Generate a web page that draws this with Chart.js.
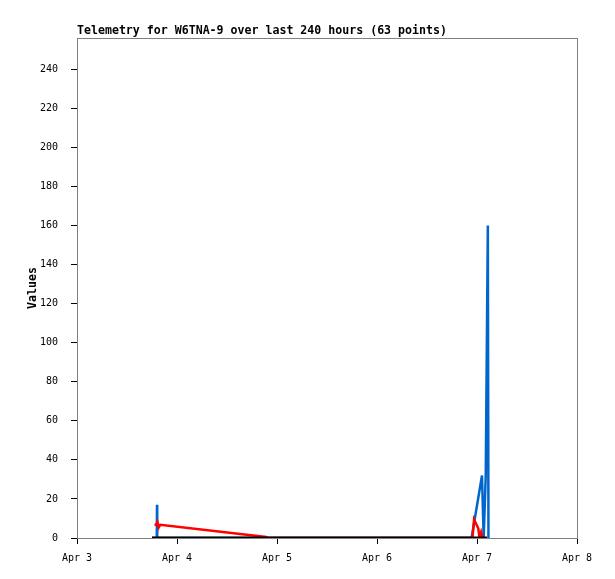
<!DOCTYPE html>
<html>
<head>
<meta charset="utf-8">
<script src="https://cdn.jsdelivr.net/npm/chart.js@4"></script>
<style>
  html, body { margin: 0; padding: 0; background: #fff; }
  #wrap { width: 615px; height: 579px; }
</style>
</head>
<body>
<div id="wrap"><canvas id="telemetryChart"></canvas></div>
<script>
// hours since Apr 3 00:00
const xTickLabels = ['Apr 3', 'Apr 4', 'Apr 5', 'Apr 6', 'Apr 7', 'Apr 8'];
const yTicks = [0, 20, 40, 60, 80, 100, 120, 140, 160, 180, 200, 220, 240];

const blueHours  = [18.0, 19.15, 19.2, 19.25, 94.7, 97.2, 97.6, 98.1, 98.6, 98.75];
const blueValues = [0, 0, 17, 0, 0, 32, 0, 32, 160, 0];

const redHours  = [18.6, 19.0, 19.3, 19.6, 20.0, 45.4, 45.8, 94.9, 95.3, 96.3, 96.6, 97.0, 97.4];
const redValues = [6.8, 6.8, 8.2, 5.3, 6.8, 0.5, 0, 0, 9.5, 5, 0, 3, 0];

const blackHours  = [18.0, 30.0, 45.0, 60.0, 75.0, 90.0, 98.4];
const blackValues = [0, 0, 0, 0, 0, 0, 0];

function toPoints(hours, values) {
    return hours.map((h, i) => ({ x: h, y: values[i] }));
}

const monoFont = "'DejaVu Sans Mono', 'Liberation Mono', monospace";

// frame + title drawn around the plot area
const framePlugin = {
    id: 'frame',
    beforeDatasetsDraw(chart) {
        const { ctx, chartArea } = chart;
        ctx.save();
        ctx.strokeStyle = '#808080';
        ctx.lineWidth = 1;
        ctx.strokeRect(chartArea.left + 0.5, chartArea.top + 0.5,
            chartArea.right - chartArea.left, chartArea.bottom - chartArea.top);
        ctx.restore();
    },
    afterDraw(chart) {
        const { ctx, chartArea } = chart;
        ctx.save();
        ctx.fillStyle = '#000';
        ctx.font = 'bold 11.6px ' + monoFont;
        ctx.textAlign = 'left';
        ctx.textBaseline = 'alphabetic';
        ctx.fillText('Telemetry for W6TNA-9 over last 240 hours (63 points)', chartArea.left, chartArea.top - 4);
        ctx.restore();
    }
};

const ctx = document.getElementById('telemetryChart').getContext('2d');
new Chart(ctx, {
    type: 'line',
    data: {
        datasets: [
            {
                label: 'black',
                data: toPoints(blackHours, blackValues),
                borderColor: '#000000',
                borderWidth: 3
            },
            {
                label: 'red',
                data: toPoints(redHours, redValues),
                borderColor: '#FF0000',
                borderWidth: 2.5
            },
            {
                label: 'blue',
                data: toPoints(blueHours, blueValues),
                borderColor: '#0066CC',
                borderWidth: 2.5
            }
        ]
    },
    options: {
        responsive: true,
        maintainAspectRatio: false,
        animation: false,
        elements: {
            point: { radius: 0 },
            line: { tension: 0, borderCapStyle: 'butt' }
        },
        plugins: {
            legend: { display: false },
            tooltip: { enabled: false }
        },
        layout: {
            padding: { top: 38, right: 38, bottom: 0, left: 0 }
        },
        scales: {
            x: {
                type: 'linear',
                min: 0,
                max: 120,
                grid: {
                    drawOnChartArea: false,
                    drawTicks: true,
                    tickLength: 6,
                    color: '#000'
                },
                border: { color: '#000', width: 1 },
                ticks: {
                    stepSize: 24,
                    maxRotation: 0,
                    padding: 8,
                    color: '#000',
                    font: { family: monoFont, size: 10 },
                    callback: (v) => xTickLabels[Math.round(v / 24)]
                },
                afterFit: (scale) => { scale.height = 41; }
            },
            y: {
                type: 'linear',
                min: 0,
                max: 256,
                grid: {
                    drawOnChartArea: false,
                    drawTicks: true,
                    tickLength: 6,
                    color: '#000'
                },
                border: { color: '#000', width: 1 },
                ticks: {
                    stepSize: 20,
                    includeBounds: false,
                    padding: 13,
                    color: '#000',
                    font: { family: monoFont, size: 10 },
                    callback: (v) => yTicks.includes(v) ? String(v) : ''
                },
                title: {
                    display: true,
                    text: 'Values',
                    color: '#000',
                    font: { family: monoFont, size: 11.6, weight: 'bold' },
                    padding: { top: 26, bottom: 0 }
                },
                afterFit: (scale) => { scale.width = 77; }
            }
        }
    },
    plugins: [framePlugin]
});
</script>
</body>
</html>
